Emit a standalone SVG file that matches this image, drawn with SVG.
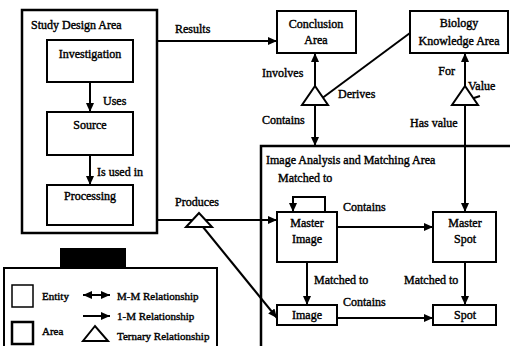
<svg xmlns="http://www.w3.org/2000/svg" width="510" height="346" viewBox="0 0 510 346">
  <defs>
    <marker id="arr" markerWidth="9" markerHeight="8" refX="9" refY="4" orient="auto" markerUnits="userSpaceOnUse">
      <path d="M0,0 L9,4 L0,8 Z" fill="#000"/>
    </marker>
    <marker id="arrStart" markerWidth="9" markerHeight="8" refX="0" refY="4" orient="auto" markerUnits="userSpaceOnUse">
      <path d="M9,0 L0,4 L9,8 Z" fill="#000"/>
    </marker>
  </defs>
  <style>
    text { font-family: "Liberation Serif", serif; font-size: 12px; fill: #000; stroke: #000; stroke-width: 0.4px; }
    .c { text-anchor: middle; }
    .e { text-anchor: end; }
    .lg { font-size: 11px; }
    .ent { fill: #fff; stroke: #000; stroke-width: 2; }
    .area { fill: #fff; stroke: #000; stroke-width: 2.5; }
    .ln { fill: none; stroke: #000; stroke-width: 2; }
    .arr { fill: none; stroke: #000; stroke-width: 2; marker-end: url(#arr); }
    .tri { fill: #fff; stroke: #000; stroke-width: 2; }
  </style>
  <rect width="510" height="346" fill="#fff"/>

  <!-- Areas -->
  <g id="study-design-area">
    <rect class="area" x="22" y="10" width="135" height="223"/>
    <text x="31" y="29">Study Design Area</text>
  </g>
  <g id="image-analysis-area">
    <rect class="area" x="261" y="146" width="260" height="210"/>
    <text x="266" y="164">Image Analysis and Matching Area</text>
  </g>

  <!-- Connectors -->
  <g id="connectors">
    <line class="arr" x1="90" y1="82" x2="90" y2="112"/>
    <line class="arr" x1="90" y1="155" x2="90" y2="185"/>
    <line class="arr" x1="157" y1="41" x2="277" y2="41"/>
    <!-- Derives ternary -->
    <line class="arr" x1="315" y1="87" x2="315" y2="53"/>
    <line class="arr" x1="315" y1="105" x2="315" y2="146"/>
    <line class="ln" x1="321" y1="99" x2="410" y2="33"/>
    <!-- Value ternary -->
    <line class="arr" x1="465" y1="87" x2="465" y2="53"/>
    <line class="arr" x1="465" y1="105" x2="465" y2="212"/>
    <line class="ln" x1="471" y1="99" x2="480" y2="96"/>
    <!-- Produces ternary -->
    <line class="arr" x1="157" y1="220" x2="277" y2="220"/>
    <line class="arr" x1="203" y1="227" x2="277" y2="318"/>
    <!-- Image analysis links -->
    <path class="arr" d="M325,212 V197 H293 V212"/>
    <line class="arr" x1="337" y1="227" x2="433" y2="227"/>
    <line class="arr" x1="307" y1="262" x2="307" y2="305"/>
    <line class="arr" x1="465" y1="262" x2="465" y2="305"/>
    <line class="arr" x1="337" y1="318" x2="433" y2="318"/>
    <polygon class="tri" points="315,86 302,105 328,105"/>
    <polygon class="tri" points="465,86 452,105 478,105"/>
    <polygon class="tri" points="199,213 186,227 212,227"/>
  </g>

  <!-- Relationship labels -->
  <g id="labels">
    <text x="103" y="105">Uses</text>
    <text x="97" y="176">Is used in</text>
    <text x="175" y="33">Results</text>
    <text x="262" y="77">Involves</text>
    <text x="338" y="98">Derives</text>
    <text x="262" y="124">Contains</text>
    <text class="e" x="455" y="75">For</text>
    <text x="468" y="90">Value</text>
    <text x="410" y="127">Has value</text>
    <text x="175" y="206">Produces</text>
    <text x="278" y="182">Matched to</text>
    <text x="343" y="211">Contains</text>
    <text x="314" y="284">Matched to</text>
    <text x="404" y="284">Matched to</text>
    <text x="343" y="306">Contains</text>
  </g>

  <!-- Entities -->
  <g id="investigation">
    <rect class="ent" x="47" y="40" width="86" height="42"/>
    <text class="c" x="90" y="58">Investigation</text>
  </g>
  <g id="source">
    <rect class="ent" x="47" y="112" width="86" height="43"/>
    <text class="c" x="90" y="129">Source</text>
  </g>
  <g id="processing">
    <rect class="ent" x="47" y="185" width="86" height="40"/>
    <text class="c" x="90" y="200">Processing</text>
  </g>
  <g id="conclusion-area">
    <rect class="ent" x="277" y="11" width="79" height="42"/>
    <text class="c" x="316" y="28">Conclusion</text>
    <text class="c" x="316" y="44">Area</text>
  </g>
  <g id="biology-knowledge-area">
    <rect class="ent" x="410" y="11" width="98" height="42"/>
    <text class="c" x="459" y="27">Biology</text>
    <text class="c" x="459" y="45">Knowledge Area</text>
  </g>
  <g id="master-image">
    <rect class="ent" x="277" y="212" width="60" height="50"/>
    <text class="c" x="307" y="227">Master</text>
    <text class="c" x="307" y="243">Image</text>
  </g>
  <g id="master-spot">
    <rect class="ent" x="433" y="212" width="63" height="50"/>
    <text class="c" x="465" y="227">Master</text>
    <text class="c" x="465" y="243">Spot</text>
  </g>
  <g id="image">
    <rect class="ent" x="277" y="305" width="60" height="20"/>
    <text class="c" x="307" y="319">Image</text>
  </g>
  <g id="spot">
    <rect class="ent" x="433" y="305" width="63" height="20"/>
    <text class="c" x="465" y="319">Spot</text>
  </g>

  <!-- Legend -->
  <g id="legend">
    <rect x="4" y="268" width="213" height="90" fill="#fff" stroke="#000" stroke-width="2"/>
    <rect x="60" y="248" width="66" height="20" fill="#000"/>
    <rect x="12" y="285" width="21" height="22" fill="#fff" stroke="#000" stroke-width="1.5"/>
    <text class="lg" x="42" y="300">Entity</text>
    <rect x="12" y="322" width="21" height="22" fill="#fff" stroke="#000" stroke-width="2.5"/>
    <text class="lg" x="42" y="335">Area</text>
    <line x1="83" y1="295" x2="110" y2="295" stroke="#000" stroke-width="2" marker-start="url(#arrStart)" marker-end="url(#arr)"/>
    <text class="lg" x="117" y="300">M-M Relationship</text>
    <line class="arr" x1="83" y1="316" x2="110" y2="316"/>
    <text class="lg" x="117" y="320">1-M Relationship</text>
    <polygon class="tri" points="95,326 83,341 108,341"/>
    <text class="lg" x="117" y="340">Ternary Relationship</text>
  </g>
</svg>
